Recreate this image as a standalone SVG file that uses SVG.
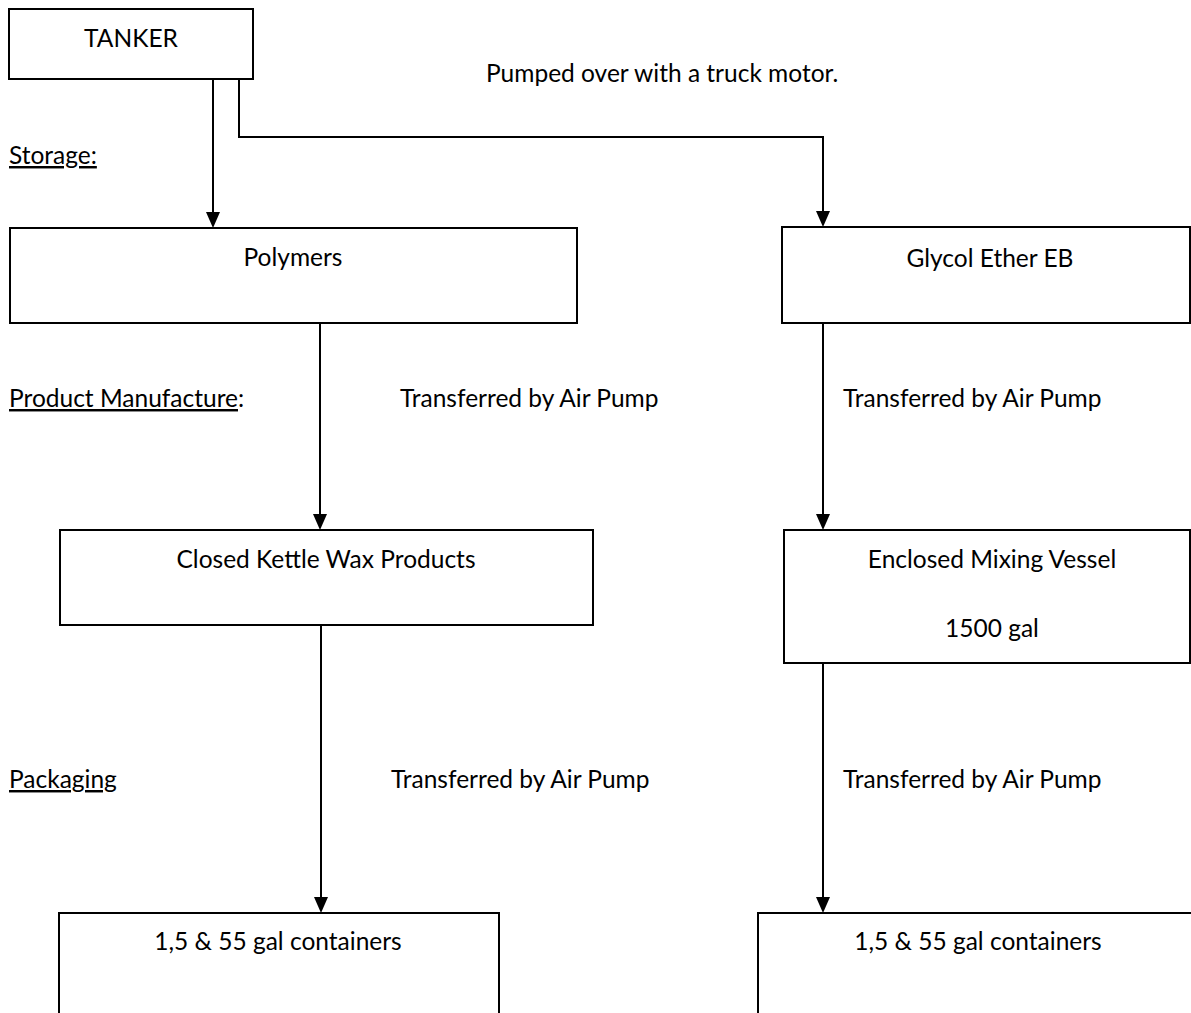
<svg xmlns="http://www.w3.org/2000/svg" width="1191" height="1013" viewBox="0 0 1191 1013">
<style>
  .box { fill: #fff; stroke: #000; stroke-width: 2; }
  .t { font-family: Lato, "Open Sans", "Liberation Sans", sans-serif; font-size: 24.5px; fill: #000; }
  .c { text-anchor: middle; }
  .u { text-decoration: underline; }
  .line { fill: none; stroke: #000; stroke-width: 2; }
  .head { fill: #000; }
</style>
<defs>
  <path id="ah" d="M-7 -16 L7 -16 L0 0 Z"/>
</defs>
<rect width="1191" height="1013" fill="#fff"/>
<g id="connectors">
  <path class="line" d="M213 79 V214"/>
  <path class="line" d="M239 79 V137 H823 V213"/>
  <path class="line" d="M320 323 V516"/>
  <path class="line" d="M823 323 V516"/>
  <path class="line" d="M321 625 V899"/>
  <path class="line" d="M823 663 V899"/>
  <use class="head" href="#ah" x="213" y="228"/>
  <use class="head" href="#ah" x="823" y="227"/>
  <use class="head" href="#ah" x="320" y="530"/>
  <use class="head" href="#ah" x="823" y="530"/>
  <use class="head" href="#ah" x="321" y="913"/>
  <use class="head" href="#ah" x="823" y="913"/>
</g>
<g id="tanker">
  <rect class="box" x="9" y="9" width="244" height="70"/>
  <text class="t c" x="131" y="47">TANKER</text>
</g>
<g id="polymers">
  <rect class="box" x="10" y="228" width="567" height="95"/>
  <text class="t c" x="293" y="266">Polymers</text>
</g>
<g id="glycol">
  <rect class="box" x="782" y="227" width="408" height="96"/>
  <text class="t c" x="990" y="267">Glycol Ether EB</text>
</g>
<g id="kettle">
  <rect class="box" x="60" y="530" width="533" height="95"/>
  <text class="t c" x="326" y="568">Closed Kettle Wax Products</text>
</g>
<g id="mixing">
  <rect class="box" x="784" y="530" width="406" height="133"/>
  <text class="t c" x="992" y="568">Enclosed Mixing Vessel</text>
  <text class="t c" x="992" y="637">1500 gal</text>
</g>
<g id="containers-left">
  <rect class="box" x="59" y="913" width="440" height="140"/>
  <text class="t c" x="278" y="950">1,5 &amp; 55 gal containers</text>
</g>
<g id="containers-right">
  <rect class="box" x="758" y="913" width="460" height="140"/>
  <text class="t c" x="978" y="950">1,5 &amp; 55 gal containers</text>
</g>
<g id="labels">
  <text class="t" x="486" y="82">Pumped over with a truck motor.</text>
  <text class="t u" x="9" y="164">Storage:</text>
  <text class="t" x="9" y="407"><tspan class="u">Product Manufacture</tspan>:</text>
  <text class="t" x="400" y="407">Transferred by Air Pump</text>
  <text class="t" x="843" y="407">Transferred by Air Pump</text>
  <text class="t u" x="9" y="788">Packaging</text>
  <text class="t" x="391" y="788">Transferred by Air Pump</text>
  <text class="t" x="843" y="788">Transferred by Air Pump</text>
</g>
</svg>
